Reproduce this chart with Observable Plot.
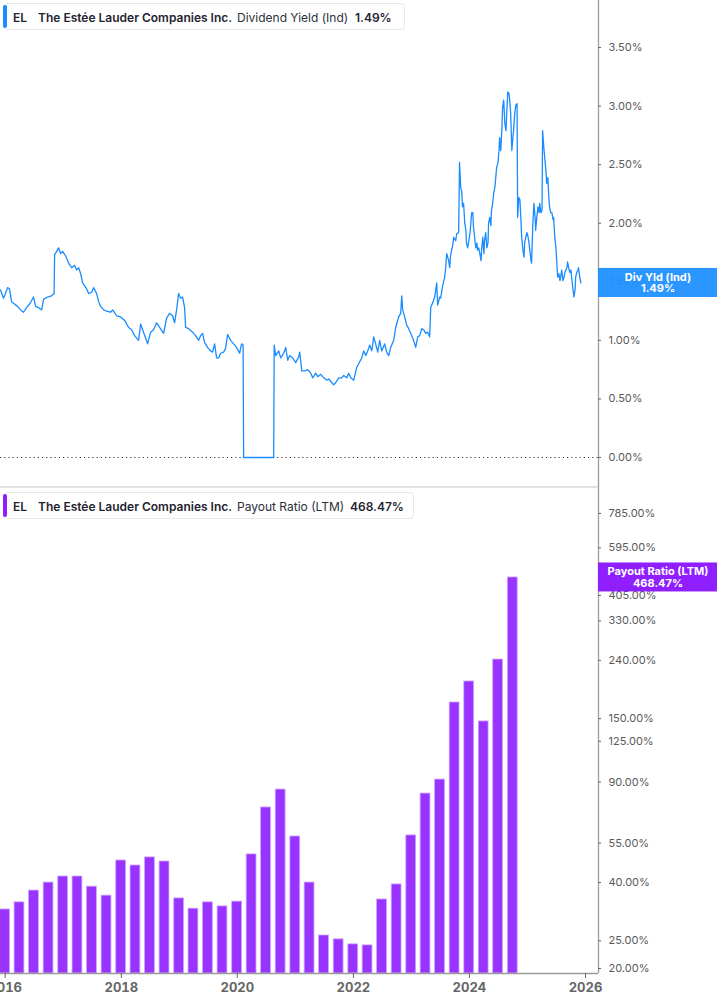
<!DOCTYPE html>
<html>
<head>
<meta charset="utf-8">
<script src="https://cdn.jsdelivr.net/npm/d3@7"></script>
<script src="https://cdn.jsdelivr.net/npm/@observablehq/plot@0.6"></script>
<style>
  body { margin: 0; background: #fff; font-family: Inter, "Noto Sans", sans-serif; }
  #wrap { position: relative; width: 717px; height: 1005px; overflow: hidden; background: #fff; }
  .chart { position: absolute; left: 0; }
  #sep { position: absolute; left: 0; top: 486px; width: 598px; height: 2px; background: #e2e2e2; }
  .legend { position: absolute; left: 3px; height: 27px; border: 1px solid #e8e8e8; border-radius: 4px;
            background: #fff; box-sizing: border-box; font-size: 12px; color: #1f2430; white-space: nowrap; }
  .legend i { position: absolute; left: -1px; top: 1px; bottom: 1px; width: 4px; border-radius: 2px; }
  .legend span { position: absolute; top: 50%; transform: translateY(-50%); }
  .b { font-weight: 600; }
  .r { font-weight: 400; color: #2a2f3a; }
  .bottomChart g[aria-label="x-axis tick label"] text { font-weight: 700; }
</style>
</head>
<body>
<div id="wrap">
  <div id="topChart" class="chart" style="top:0"></div>
  <div id="botChart" class="chart bottomChart" style="top:487px"></div>
  <div id="sep"></div>
  <div class="legend" id="leg1" style="top:3px;width:402px"></div>
  <div class="legend" id="leg2" style="top:492px;width:411px"></div>
</div>
<script>
// ---------- data ----------
const ticker = "EL";
const company = "The Estée Lauder Companies Inc.";
const yieldName = "Dividend Yield (Ind)";
const payoutName = "Payout Ratio (LTM)";
const yieldTag = "Div Yld (Ind)";

// Dividend yield (%), [decimal year, value]
const dividendYield = [
[2015.919,1.43],[2015.971,1.36],[2016.005,1.40],[2016.040,1.45],[2016.074,1.44],[2016.109,1.33],[2016.160,1.31],[2016.212,1.29],[2016.264,1.26],[2016.316,1.24],
[2016.367,1.28],[2016.419,1.31],[2016.488,1.37],[2016.522,1.29],[2016.574,1.28],[2016.626,1.26],[2016.660,1.35],[2016.729,1.37],[2016.798,1.38],[2016.841,1.40],
[2016.850,1.73],[2016.885,1.76],[2016.919,1.79],[2016.953,1.74],[2016.988,1.76],[2017.040,1.72],[2017.091,1.66],[2017.143,1.62],[2017.195,1.64],[2017.229,1.60],
[2017.264,1.62],[2017.298,1.57],[2017.333,1.49],[2017.402,1.44],[2017.436,1.40],[2017.488,1.41],[2017.522,1.45],[2017.574,1.40],[2017.609,1.33],[2017.643,1.29],
[2017.695,1.26],[2017.747,1.25],[2017.816,1.24],[2017.850,1.26],[2017.919,1.21],[2017.988,1.20],[2018.057,1.17],[2018.126,1.11],[2018.178,1.09],[2018.229,1.04],
[2018.298,1.00],[2018.333,1.14],[2018.367,1.09],[2018.419,1.02],[2018.453,0.97],[2018.505,1.07],[2018.557,1.09],[2018.609,1.15],[2018.660,1.11],[2018.729,1.06],
[2018.781,1.19],[2018.833,1.23],[2018.885,1.21],[2018.919,1.15],[2018.953,1.26],[2018.988,1.40],[2019.022,1.36],[2019.057,1.37],[2019.091,1.28],[2019.109,1.11],
[2019.160,1.10],[2019.229,1.07],[2019.281,1.04],[2019.333,1.00],
[2019.367,1.04],[2019.402,1.06],[2019.436,0.98],[2019.488,0.94],[2019.540,0.91],[2019.574,0.90],[2019.609,0.97],[2019.643,0.85],[2019.678,0.85],[2019.712,0.89],
[2019.764,0.90],[2019.798,0.93],[2019.833,1.05],[2019.885,1.00],[2019.936,0.97],[2019.988,0.94],[2020.040,0.89],[2020.074,0.97],[2020.100,0.96],[2020.109,0],
[2020.626,0],[2020.635,0.96],[2020.660,0.87],[2020.712,0.91],[2020.747,0.85],[2020.798,0.89],[2020.833,0.94],[2020.867,0.83],[2020.902,0.87],[2020.953,0.85],
[2021.005,0.81],[2021.057,0.86],[2021.074,0.90],[2021.109,0.74],[2021.160,0.74],[2021.212,0.75],[2021.264,0.72],[2021.298,0.68],[2021.350,0.72],[2021.385,0.69],
[2021.436,0.71],[2021.488,0.68],[2021.540,0.66],[2021.574,0.67],[2021.626,0.64],[2021.660,0.62],[2021.695,0.64],[2021.747,0.68],[2021.798,0.68],[2021.833,0.70],
[2021.885,0.68],[2021.919,0.72],[2021.953,0.68],[2022.005,0.66],[2022.057,0.77],[2022.091,0.80],[2022.143,0.85],[2022.178,0.91],[2022.212,0.87],[2022.247,0.91],
[2022.281,0.96],[2022.316,0.91],[2022.350,1.03],[2022.384,0.97],[2022.419,0.90],[2022.453,1.00],[2022.488,0.91],[2022.540,0.97],[2022.574,0.90],[2022.609,0.87],
[2022.643,0.94],[2022.695,1.00],[2022.729,1.11],[2022.781,1.20],[2022.815,1.23],[2022.833,1.38],[2022.850,1.26],[2022.884,1.20],[2022.919,1.13],[2022.953,1.10],
[2022.988,1.06],[2023.022,1.02],[2023.057,0.97],[2023.074,0.94],[2023.109,1.03],[2023.143,1.04],[2023.178,1.10],[2023.212,1.09],[2023.247,1.06],[2023.281,1.07],
[2023.315,1.03],[2023.333,1.28],[2023.367,1.32],[2023.402,1.37],[2023.436,1.49],[2023.453,1.30],[2023.488,1.37],[2023.505,1.36],[2023.540,1.47],[2023.574,1.54],
[2023.591,1.62],[2023.609,1.74],[2023.643,1.68],[2023.660,1.62],[2023.677,1.73],[2023.712,1.81],[2023.729,1.88],[2023.764,1.85],[2023.781,1.91],[2023.815,1.92],
[2023.83,2.52],[2023.85,2.31],[2023.87,2.26],[2023.88,2.14],[2023.90,2.17],[2023.92,2.00],[2023.94,1.94],[2023.95,1.83],[2023.97,1.79],[2023.99,1.85],
[2024.01,1.91],[2024.02,1.97],[2024.04,2.09],[2024.06,2.09],[2024.07,1.97],[2024.09,1.88],[2024.11,1.79],[2024.13,1.83],[2024.14,1.77],[2024.16,1.79],
[2024.18,1.74],[2024.20,1.68],[2024.21,1.77],[2024.23,1.88],[2024.25,1.74],[2024.26,1.85],[2024.28,1.92],[2024.30,1.79],[2024.32,1.83],[2024.33,2.00],
[2024.35,2.05],[2024.37,1.98],[2024.38,2.11],[2024.40,2.17],[2024.42,2.26],[2024.44,2.31],[2024.45,2.37],[2024.47,2.48],[2024.49,2.51],[2024.51,2.62],
[2024.52,2.73],[2024.54,2.62],[2024.56,2.82],[2024.57,2.98],[2024.59,3.05],[2024.61,2.85],[2024.63,2.79],[2024.64,2.91],[2024.66,3.12],[2024.68,3.11],
[2024.69,3.07],[2024.71,2.94],[2024.73,2.62],[2024.75,2.74],[2024.76,2.79],[2024.78,2.94],[2024.80,3.01],[2024.82,3.02],[2024.83,2.05],[2024.85,2.22],
[2024.87,2.20],[2024.88,2.09],[2024.90,1.88],[2024.92,1.77],[2024.94,1.71],[2024.95,1.83],[2024.97,1.88],[2024.99,1.92],[2025.01,1.88],[2025.02,1.85],
[2025.04,1.77],[2025.06,1.68],[2025.07,1.66],[2025.09,1.97],[2025.11,2.17],[2025.13,2.05],[2025.14,1.94],[2025.16,2.05],[2025.18,2.14],[2025.20,2.09],
[2025.21,2.17],[2025.23,2.09],[2025.25,2.11],[2025.26,2.79],[2025.28,2.65],[2025.30,2.54],[2025.32,2.43],[2025.33,2.34],[2025.35,2.39],[2025.37,2.20],
[2025.38,2.14],[2025.40,2.09],[2025.42,2.09],[2025.44,2.03],[2025.45,2.05],[2025.47,1.88],[2025.49,1.79],[2025.51,1.62],[2025.52,1.54],[2025.54,1.57],
[2025.56,1.51],[2025.57,1.54],[2025.59,1.60],[2025.61,1.51],[2025.63,1.54],[2025.64,1.57],[2025.66,1.60],[2025.68,1.62],[2025.69,1.67],[2025.71,1.62],
[2025.73,1.58],[2025.75,1.60],[2025.76,1.54],[2025.78,1.45],[2025.80,1.37],[2025.82,1.43],[2025.83,1.54],[2025.85,1.58],[2025.87,1.60],[2025.88,1.62],
[2025.90,1.54],[2025.92,1.49]
];

// Payout ratio (LTM, %), quarterly
const payoutDates = ["2015-12-31","2016-03-31","2016-06-30","2016-09-30","2016-12-31","2017-03-31","2017-06-30","2017-09-30",
  "2017-12-31","2018-03-31","2018-06-30","2018-09-30","2018-12-31","2019-03-31","2019-06-30","2019-09-30",
  "2019-12-31","2020-03-31","2020-06-30","2020-09-30","2020-12-31","2021-03-31","2021-06-30","2021-09-30",
  "2021-12-31","2022-03-31","2022-06-30","2022-09-30","2022-12-31","2023-03-31","2023-06-30","2023-09-30",
  "2023-12-31","2024-03-31","2024-06-30","2024-09-30"];
const payoutValues = [32.2,34.1,37.5,40.0,42.0,42.0,38.7,36.0,
  47.8,45.9,49.0,47.4,35.2,32.4,34.1,33.0,
  34.3,50.2,73.3,84.7,58.0,40.0,26.1,25.3,
  24.3,24.1,34.9,39.4,58.5,82.0,91.8,170.9,
  202.5,146.7,241.7,468.47];

const yieldTicks = [0, 0.5, 1.0, 1.5, 2.0, 2.5, 3.0, 3.5];
const payoutTicks = [20, 25, 40, 55, 90, 125, 150, 240, 330, 405, 595, 785];
const yearTicks = [2016, 2018, 2020, 2022, 2024, 2026];

// ---------- helpers ----------
function toDate(y) {
  const yr = Math.floor(y);
  const a = Date.UTC(yr, 0, 1), b = Date.UTC(yr + 1, 0, 1);
  return new Date(a + (y - yr) * (b - a));
}
const xDomain = [toDate(2015.919), toDate(2026.224)];
const xFar = toDate(2028.28);
const xLabel = toDate(2027.25);
const xTickEnd = d3.utcDay.offset(xDomain[1], 19);

const yieldData = dividendYield.map(([t, v]) => ({date: toDate(t), value: v}));
const lastYield = yieldData[yieldData.length - 1].value;
const bars = payoutDates.map((d, i) => {
  const dt = new Date(d + "T00:00:00Z");
  return {x1: d3.utcDay.offset(dt, -31), x2: d3.utcDay.offset(dt, 31), value: payoutValues[i]};
});
const lastPayout = payoutValues[payoutValues.length - 1];
const fmt = v => v.toFixed(2) + "%";

const font = "Inter, 'Noto Sans', sans-serif";

// right-hand axis built from marks (ticks + labels)
function rightAxis(ticks) {
  return [
    Plot.ruleY(ticks, {y: d => d, x1: xDomain[1], x2: xTickEnd, stroke: "#666", strokeWidth: 1, clip: false}),
    Plot.text(ticks, {y: d => d, x: xDomain[1], dx: 10, text: fmt, textAnchor: "start",
      fill: "#5a5a5a", fontSize: 11, clip: false})
  ];
}

// ---------- top chart ----------
const yTopDomain = [-0.256, 3.901];
const topPlot = Plot.plot({
  width: 717, height: 487,
  marginLeft: 0, marginRight: 119, marginTop: 0, marginBottom: 0,
  x: {type: "utc", domain: xDomain, axis: null},
  y: {domain: yTopDomain, axis: null},
  style: {fontFamily: font, background: "transparent"},
  marks: [
    Plot.ruleY([0], {stroke: "#3a3a3a", strokeDasharray: "1.2,3", strokeWidth: 1}),
    Plot.lineY(yieldData, {x: "date", y: "value", stroke: "#1a8cff", strokeWidth: 1.3, curve: "linear"}),
    Plot.ruleX([xDomain[1]], {stroke: "#9a9a9a", strokeWidth: 1.3}),
    ...rightAxis(yieldTicks),
    Plot.rect([lastYield], {x1: xDomain[1], x2: xFar, y1: d => d - 0.124, y2: d => d + 0.124,
      fill: "#1e8fff", fillOpacity: 0.94, clip: false}),
    Plot.text([lastYield], {x: xLabel, y: d => d, text: d => yieldTag + "\n" + fmt(d),
      fill: "white", fontWeight: "bold", fontSize: 11, lineHeight: 1.05, textAnchor: "middle", clip: false})
  ]
});
document.getElementById("topChart").appendChild(topPlot);

// ---------- bottom chart ----------
const yBotDomain = [19.21, 967.8];
const botPlot = Plot.plot({
  width: 717, height: 518,
  marginLeft: 0, marginRight: 119, marginTop: 0, marginBottom: 32,
  x: {type: "utc", domain: xDomain, axis: null},
  y: {type: "log", domain: yBotDomain, axis: null},
  style: {fontFamily: font, background: "transparent"},
  marks: [
    Plot.rectY(bars, {x1: "x1", x2: "x2", y1: yBotDomain[0], y2: "value",
      fill: "#9933ff", stroke: "#cfa6ff", strokeWidth: 0.8}),
    Plot.ruleX([xDomain[1]], {stroke: "#9a9a9a", strokeWidth: 1.3}),
    Plot.ruleY([yBotDomain[0]], {stroke: "#9a9a9a", strokeWidth: 1.3}),
    ...rightAxis(payoutTicks),
    Plot.axisX({ticks: yearTicks.map(y => toDate(y)), tickFormat: d3.utcFormat("%Y"), tickSize: 5,
      tickPadding: 4, fontSize: 13, color: "#666", label: null}),
    Plot.rect([lastPayout], {x1: xDomain[1], x2: xFar, y1: d => d / 1.124, y2: d => d * 1.124,
      fill: "#8f1fff", clip: false}),
    Plot.text([lastPayout], {x: xLabel, y: d => d, text: d => payoutName + "\n" + fmt(d),
      fill: "white", fontWeight: "bold", fontSize: 11, lineHeight: 1.05, textAnchor: "middle", clip: false})
  ]
});
document.getElementById("botChart").appendChild(botPlot);

// ---------- legends ----------
function legend(el, color, name, value, xs) {
  el.innerHTML = `<i style="background:${color}"></i>` +
    `<span class="b" style="left:${xs[0]}px">${ticker}</span>` +
    `<span class="b" style="left:${xs[1]}px">${company}</span>` +
    `<span class="r" style="left:${xs[2]}px">${name}</span>` +
    `<span class="b" style="left:${xs[3]}px">${value}</span>`;
}
legend(document.getElementById("leg1"), "#1a8cff", yieldName, fmt(lastYield), [9, 34, 233, 351]);
legend(document.getElementById("leg2"), "#8f1fff", payoutName, fmt(lastPayout), [9, 34, 233, 346]);
</script>
</body>
</html>
